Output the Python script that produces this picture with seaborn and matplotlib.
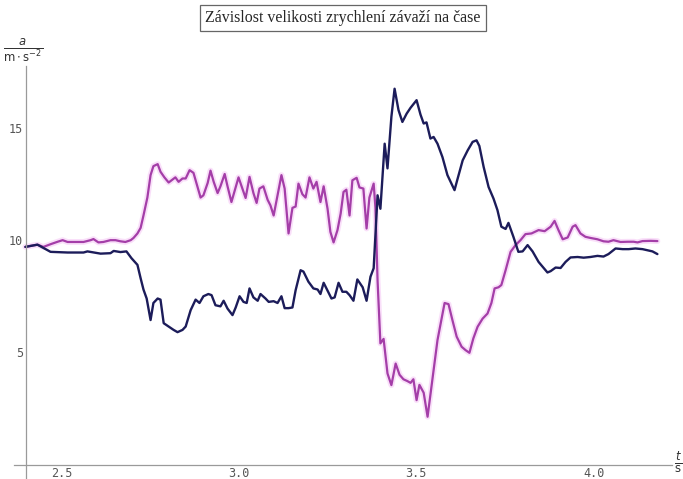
import matplotlib
matplotlib.use("Agg")
import matplotlib.pyplot as plt
import seaborn as sns
from matplotlib.ticker import MultipleLocator, FormatStrFormatter

# time axis [s] and acceleration [m/s^2]
t_navy = [2.398, 2.432, 2.469, 2.517, 2.562, 2.573, 2.610, 2.638, 2.647, 2.666,
          2.683, 2.697, 2.714, 2.723, 2.731, 2.740, 2.751, 2.759, 2.771, 2.779,
          2.788, 2.802, 2.816, 2.827, 2.841, 2.850, 2.864, 2.878, 2.889, 2.900,
          2.914, 2.923, 2.934, 2.948, 2.957, 2.968, 2.982, 2.991, 3.002, 3.013,
          3.022, 3.030, 3.041, 3.053, 3.061, 3.075, 3.084, 3.098, 3.109, 3.120,
          3.129, 3.140, 3.151, 3.160, 3.174, 3.182, 3.196, 3.210, 3.222, 3.230,
          3.239, 3.250, 3.261, 3.270, 3.281, 3.292, 3.303, 3.312, 3.323, 3.334,
          3.349, 3.360, 3.371, 3.380, 3.391, 3.399, 3.411, 3.419, 3.430, 3.439,
          3.450, 3.461, 3.473, 3.484, 3.501, 3.512, 3.521, 3.529, 3.540, 3.549,
          3.560, 3.574, 3.588, 3.597, 3.608, 3.616, 3.631, 3.645, 3.659, 3.670,
          3.678, 3.690, 3.704, 3.718, 3.729, 3.740, 3.752, 3.760, 3.774, 3.788,
          3.800, 3.814, 3.828, 3.845, 3.870, 3.879, 3.893, 3.907, 3.921, 3.935,
          3.955, 3.972, 3.991, 4.011, 4.028, 4.042, 4.062, 4.082, 4.099, 4.118,
          4.138, 4.152, 4.166, 4.180]
a_navy = [9.7, 9.8, 9.48, 9.45, 9.45, 9.5, 9.4, 9.42, 9.52, 9.47,
          9.5, 9.2, 8.9, 8.3, 7.8, 7.4, 6.44, 7.2, 7.4, 7.35,
          6.3, 6.15, 6.0, 5.9, 6.0, 6.15, 6.88, 7.35, 7.2, 7.5,
          7.6, 7.55, 7.1, 7.05, 7.3, 6.95, 6.66, 7.0, 7.5, 7.25,
          7.2, 7.85, 7.45, 7.3, 7.6, 7.4, 7.25, 7.28, 7.2, 7.5,
          6.97, 6.97, 7.0, 7.77, 8.66, 8.6, 8.15, 7.85, 7.8, 7.6,
          8.1, 7.75, 7.4, 7.45, 8.1, 7.7, 7.7, 7.55, 7.3, 8.25,
          7.9, 7.3, 8.37, 8.75, 12.0, 11.4, 14.3, 13.2, 15.5, 16.75,
          15.8, 15.27, 15.64, 15.9, 16.24, 15.6, 15.2, 15.25, 14.53, 14.6,
          14.3, 13.7, 12.9, 12.6, 12.23, 12.7, 13.56, 14.0, 14.38, 14.45,
          14.2, 13.27, 12.37, 11.85, 11.34, 10.6, 10.5, 10.77, 10.15, 9.48,
          9.5, 9.78, 9.5, 9.03, 8.56, 8.62, 8.78, 8.76, 9.03, 9.23,
          9.25, 9.22, 9.25, 9.3, 9.27, 9.38, 9.63, 9.6, 9.6, 9.63,
          9.6, 9.55, 9.5, 9.38]

t_pink = [2.398, 2.432, 2.449, 2.469, 2.489, 2.503, 2.517, 2.562, 2.582, 2.590,
          2.604, 2.618, 2.638, 2.652, 2.666, 2.680, 2.695, 2.703, 2.714, 2.723,
          2.731, 2.742, 2.751, 2.759, 2.771, 2.779, 2.790, 2.802, 2.813, 2.821,
          2.830, 2.841, 2.850, 2.861, 2.872, 2.883, 2.892, 2.900, 2.912, 2.920,
          2.929, 2.940, 2.948, 2.960, 2.968, 2.979, 2.988, 2.999, 3.010, 3.019,
          3.030, 3.041, 3.050, 3.058, 3.069, 3.081, 3.089, 3.098, 3.109, 3.120,
          3.129, 3.140, 3.151, 3.160, 3.168, 3.179, 3.188, 3.199, 3.210, 3.219,
          3.230, 3.239, 3.250, 3.258, 3.267, 3.278, 3.287, 3.295, 3.303, 3.312,
          3.320, 3.332, 3.340, 3.351, 3.360, 3.368, 3.380, 3.385, 3.391, 3.399,
          3.408, 3.419, 3.430, 3.442, 3.453, 3.464, 3.475, 3.484, 3.492, 3.501,
          3.509, 3.521, 3.532, 3.540, 3.549, 3.560, 3.568, 3.580, 3.591, 3.602,
          3.614, 3.628, 3.639, 3.650, 3.661, 3.673, 3.687, 3.701, 3.712, 3.721,
          3.732, 3.740, 3.752, 3.766, 3.780, 3.794, 3.808, 3.825, 3.845, 3.862,
          3.879, 3.890, 3.901, 3.913, 3.927, 3.941, 3.949, 3.963, 3.977, 3.991,
          4.011, 4.028, 4.042, 4.056, 4.076, 4.096, 4.113, 4.124, 4.138, 4.161,
          4.180]
a_pink = [9.7, 9.8, 9.7, 9.82, 9.93, 10.0, 9.92, 9.92, 10.0, 10.05,
          9.9, 9.92, 10.0, 10.0, 9.95, 9.92, 10.0, 10.1, 10.3, 10.55,
          11.1, 11.9, 12.9, 13.3, 13.39, 13.05, 12.8, 12.57, 12.7, 12.8,
          12.6, 12.75, 12.75, 13.12, 13.0, 12.4, 11.9, 12.0, 12.55, 13.1,
          12.6, 12.1, 12.4, 12.95, 12.4, 11.7, 12.2, 12.8, 12.3, 11.88,
          12.82, 12.1, 11.66, 12.3, 12.4, 11.8, 11.55, 11.1, 12.0, 12.9,
          12.3, 10.3, 11.44, 11.5, 12.52, 12.05, 11.9, 12.8, 12.3, 12.6,
          11.7, 12.4, 11.4, 10.37, 9.9, 10.45, 11.19, 12.15, 12.25, 11.1,
          12.67, 12.78, 12.35, 12.3, 10.52, 11.9, 12.52, 11.45, 8.2, 5.4,
          5.6, 4.06, 3.54, 4.5, 4.0, 3.8, 3.72, 3.64, 3.8, 2.87,
          3.55, 3.2, 2.13, 3.1, 4.2, 5.55, 6.2, 7.2, 7.15, 6.44,
          5.7, 5.25, 5.1, 4.98, 5.62, 6.14, 6.5, 6.73, 7.2, 7.85,
          7.9, 8.0, 8.66, 9.48, 9.78, 10.0, 10.27, 10.3, 10.45, 10.4,
          10.6, 10.86, 10.45, 10.04, 10.12, 10.6, 10.67, 10.3, 10.15, 10.1,
          10.04, 9.95, 9.93, 10.0, 9.92, 9.93, 9.93, 9.9, 9.96, 9.97,
          9.96]

title = "Závislost velikosti zrychlení závaží na čase"

sns.set_style("white")
plt.rcParams['font.family'] = ['DejaVu Sans']

fig = plt.figure(figsize=(6.83, 4.79), dpi=100)
ax = fig.add_axes([0.0200, 0.0021, 0.9633, 0.8595])

# soft glow under the magenta curve, then the curves themselves
sns.lineplot(x=t_pink, y=a_pink, sort=False, estimator=None, ax=ax,
             color='#f2b0f2', lw=4.2, alpha=0.4)
sns.lineplot(x=t_pink, y=a_pink, sort=False, estimator=None, ax=ax,
             color='#a43ea8', lw=1.6)
sns.lineplot(x=t_navy, y=a_navy, sort=False, estimator=None, ax=ax,
             color='#1c1c5a', lw=1.7)

ax.set_xlim(2.365, 4.22)
ax.set_ylim(-0.6, 17.75)

# Mathematica-like crossing axes
for side in ['top', 'right']:
    ax.spines[side].set_visible(False)
ax.spines['left'].set_position(('data', 2.40))
ax.spines['bottom'].set_position(('data', 0))
for side in ['left', 'bottom']:
    ax.spines[side].set_color('#9a9a9a')
    ax.spines[side].set_linewidth(0.9)

ax.xaxis.set_minor_locator(MultipleLocator(0.1))
ax.yaxis.set_minor_locator(MultipleLocator(1))
ax.xaxis.set_major_formatter(FormatStrFormatter('%.1f'))
ax.set_yticks([5, 10, 15])
ax.set_xticks([2.5, 3.0, 3.5, 4.0])
ax.tick_params(which='both', direction='in', color='#9a9a9a', labelcolor='#555555',
               labelsize=8.5, labelfontfamily='DejaVu Sans Mono')
ax.tick_params(which='major', length=4, width=0.8, pad=2)
ax.tick_params(which='minor', length=2, width=0.6)
ax.set_xlabel('')
ax.set_ylabel('')

# axis unit labels as fractions
fig.text(0.034, 0.895, r'$\frac{a}{\mathrm{m\cdot s^{-2}}}$', fontsize=12,
         ha='center', va='center', color='#333333')
fig.text(0.993, 0.035, r'$\frac{t}{\mathrm{s}}$', fontsize=12,
         ha='center', va='center', color='#333333')

fig.text(0.502, 0.962, title, fontsize=11.4, family='Liberation Serif',
         ha='center', va='center',
         bbox=dict(boxstyle='square,pad=0.33', fc='white', ec='#666666', lw=0.9))

fig.savefig('out.png', dpi=100)
